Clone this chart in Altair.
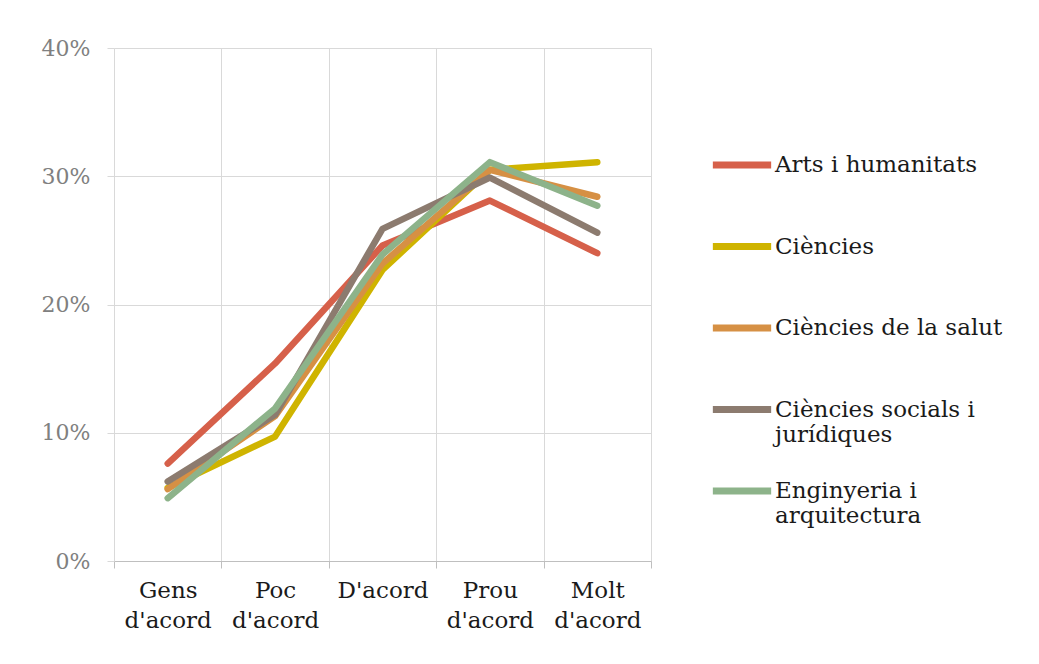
import altair as alt
import pandas as pd

categories = ["Gens d'acord", "Poc d'acord", "D'acord", "Prou d'acord", "Molt d'acord"]
series = ["Arts i humanitats", "Ciències", "Ciències de la salut",
          "Ciències socials i jurídiques", "Enginyeria i arquitectura"]
colors = ["#D6604A", "#CFB400", "#D69044", "#8C7B6F", "#8DB38A"]

arts = [0.076, 0.154, 0.246, 0.281, 0.240]
ciencies = [0.057, 0.097, 0.227, 0.305, 0.311]
salut = [0.056, 0.113, 0.232, 0.305, 0.284]
socials = [0.062, 0.114, 0.259, 0.299, 0.256]
enginyeria = [0.049, 0.119, 0.239, 0.311, 0.277]

values = [arts, ciencies, salut, socials, enginyeria]
rows = []
for s, vals in zip(series, values):
    for c, v in zip(categories, vals):
        rows.append({"cat": c, "serie": s, "value": v})
df = pd.DataFrame(rows)

font = "DejaVu Serif"

legend_expr = ("datum.label == 'Ciències socials i jurídiques' ? ['Ciències socials i', 'jurídiques'] : "
               "datum.label == 'Enginyeria i arquitectura' ? ['Enginyeria i', 'arquitectura'] : [datum.label, ' ']")

chart = alt.Chart(df).mark_line(strokeWidth=6.5, strokeCap="round", strokeJoin="round").encode(
    x=alt.X("cat:N", sort=categories, bandPosition=0.5,
            scale=alt.Scale(type="band", paddingInner=0, paddingOuter=0),
            axis=alt.Axis(title=None, labelAngle=0, tickBand="extent", grid=True,
                          gridColor="#D9D9D9", domainColor="#BFBFBF", tickColor="#BFBFBF",
                          tickSize=7, labelFont=font, labelFontSize=23, labelColor="#1a1a1a",
                          labelPadding=11, labelLineHeight=30, labelBaseline="top",
                          labelExpr="split(datum.label, ' ')")),
    y=alt.Y("value:Q", scale=alt.Scale(domain=[0, 0.4], nice=False),
            axis=alt.Axis(title=None, format=".0%", values=[0, 0.1, 0.2, 0.3, 0.4],
                          gridColor="#D9D9D9", domain=False, tickColor="#D9D9D9",
                          tickSize=7, labelFont=font, labelFontSize=22, labelColor="#808080",
                          labelPadding=17)),
    color=alt.Color("serie:N", sort=series,
                    scale=alt.Scale(domain=series, range=colors),
                    legend=alt.Legend(title=None, orient="none", legendX=595, legendY=84,
                                      symbolType="stroke", symbolSize=3400, symbolStrokeWidth=7,
                                      labelFont=font, labelFontSize=23, labelColor="#1a1a1a",
                                      labelLimit=400, labelOffset=0, rowPadding=11.5,
                                      labelBaseline="middle", labelExpr=legend_expr)),
    order=alt.Order("serie:N"),
).properties(
    width=537, height=513,
    autosize=alt.AutoSizeParams(type="none"),
    padding={"left": 106, "top": 40, "right": 370, "bottom": 85},
).configure_view(stroke=None)

chart.save("out.html", embed_options={"renderer": "svg", "actions": False})
